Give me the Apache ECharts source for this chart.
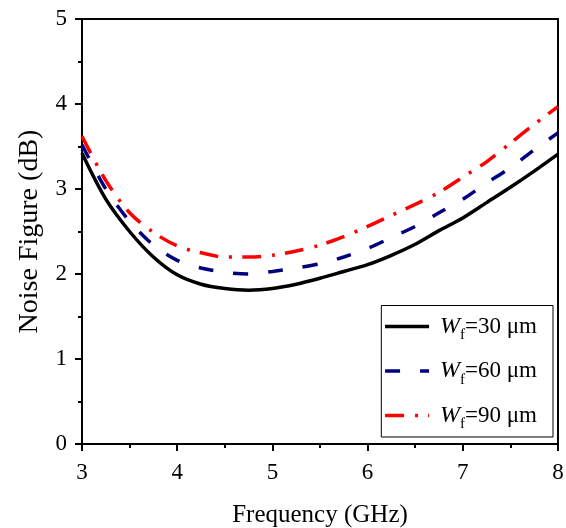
<!DOCTYPE html>
<html>
<head>
<meta charset="utf-8">
<script src="https://cdn.jsdelivr.net/npm/echarts@6/dist/echarts.min.js"></script>
<style>html,body{margin:0;padding:0;background:#fff}#c{width:566px;height:528px}</style>
</head>
<body>
<div id="c"></div>
<script>
var freq = [3.0,3.25,3.5,3.75,4.0,4.25,4.5,4.75,5.0,5.25,5.5,5.75,6.0,6.25,6.5,6.75,7.0,7.25,7.5,7.75,8.0];
var nf30 = [3.42,2.88,2.50,2.20,1.99,1.88,1.83,1.81,1.83,1.88,1.95,2.03,2.11,2.22,2.35,2.51,2.66,2.84,3.02,3.21,3.41];
var nf60 = [3.52,3.00,2.62,2.34,2.16,2.07,2.02,2.00,2.03,2.07,2.12,2.20,2.30,2.43,2.56,2.72,2.88,3.07,3.25,3.46,3.66];
var nf90 = [3.62,3.10,2.72,2.49,2.33,2.25,2.20,2.20,2.22,2.27,2.34,2.44,2.56,2.69,2.82,2.96,3.14,3.32,3.54,3.76,3.97];
var seriesNames = ['30', '60', '90'];
var xTitle = 'Frequency (GHz)';
var yTitle = 'Noise Figure (dB)';

function pairs(v){ return freq.map(function(f,i){ return [f, v[i]]; }); }
var font = 'Liberation Serif';
var chart = echarts.init(document.getElementById('c'));
chart.setOption({
  animation: false,
  backgroundColor: '#fff',
  grid: {left: 82, right: 8, top: 19, bottom: 84, show: true, borderColor: '#000', borderWidth: 2, backgroundColor: 'transparent', containLabel: false, outerBoundsMode: 'none'},
  legend: {
    right: 13, bottom: 91,
    orient: 'vertical',
    itemWidth: 44, itemHeight: 14, itemGap: 16,
    padding: [9, 16, 5, 2],
    borderColor: '#000', borderWidth: 1,
    data: seriesNames,
    itemStyle: {opacity: 0},
    lineStyle: {width: 3.5},
    formatter: function(n){ return '{i|W}{s|f}{t|=' + n + ' μm}'; },
    textStyle: {
      fontFamily: font, color: '#000', fontSize: 23,
      rich: {
        i: {fontFamily: font, fontStyle: 'italic', fontSize: 24, color: '#000', padding: [0, 0, 0, 6]},
        s: {fontFamily: font, fontSize: 15, color: '#000', padding: [18, 0, 0, 0], verticalAlign: 'bottom'},
        t: {fontFamily: font, fontSize: 23, color: '#000'}
      }
    }
  },
  xAxis: {
    type: 'value', min: 3, max: 8, interval: 1,
    name: xTitle, nameLocation: 'middle', nameGap: 59,
    nameTextStyle: {fontFamily: font, fontSize: 25, color: '#000'},
    axisLine: {lineStyle: {color: '#000', width: 2}},
    axisTick: {inside: false, length: 7, lineStyle: {color: '#000', width: 2}},
    minorTick: {show: true, splitNumber: 2, length: 4, lineStyle: {color: '#000', width: 2}},
    axisLabel: {fontFamily: font, fontSize: 23, color: '#000', margin: 17},
    splitLine: {show: false}
  },
  yAxis: {
    type: 'value', min: 0, max: 5, interval: 1,
    name: yTitle, nameLocation: 'middle', nameGap: 38,
    nameTextStyle: {fontFamily: font, fontSize: 28, color: '#000'},
    axisLine: {lineStyle: {color: '#000', width: 2}},
    axisTick: {inside: false, length: 7, lineStyle: {color: '#000', width: 2}},
    minorTick: {show: true, splitNumber: 2, length: 4, lineStyle: {color: '#000', width: 2}},
    axisLabel: {fontFamily: font, fontSize: 23, color: '#000', margin: 15},
    splitLine: {show: false}
  },
  series: [
    {name: seriesNames[0], type: 'line', data: pairs(nf30), smooth: 0.3, showSymbol: false, symbol: 'none',
     lineStyle: {color: '#000', width: 3.5}, itemStyle: {color: '#000'}},
    {name: seriesNames[1], type: 'line', data: pairs(nf60), smooth: 0.3, showSymbol: false, symbol: 'none',
     lineStyle: {color: '#00007F', width: 3.5, type: [15, 20]}, itemStyle: {color: '#00007F'}},
    {name: seriesNames[2], type: 'line', data: pairs(nf90), smooth: 0.3, showSymbol: false, symbol: 'none',
     lineStyle: {color: '#FF0000', width: 3.5, type: [19, 11, 3, 10]}, itemStyle: {color: '#FF0000'}}
  ]
});
</script>
</body>
</html>
